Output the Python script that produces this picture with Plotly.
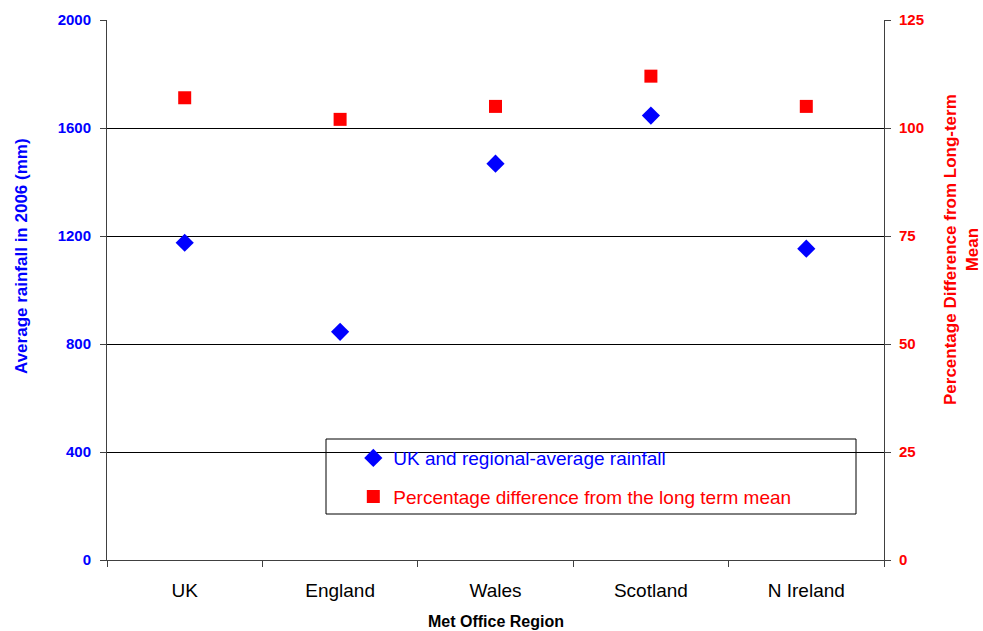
import plotly.graph_objects as go

regions = ["UK", "England", "Wales", "Scotland", "N Ireland"]
rainfall_mm = [1175, 845, 1468, 1646, 1153]
pct_of_mean = [107, 102, 105, 112, 105]
left_ticks = [0, 400, 800, 1200, 1600, 2000]
right_ticks = [0, 25, 50, 75, 100, 125]

FONT = "Arial, Liberation Sans, sans-serif"
BLUE = "#0000FF"
RED = "#FF0000"

fig = go.Figure()
fig.add_trace(go.Scatter(
    x=regions, y=rainfall_mm, mode="markers", yaxis="y",
    name='<span style="color:#0000FF">UK and regional-average rainfall</span>',
    legendgroup="a",
    marker=dict(symbol="diamond", size=14, color=BLUE, line=dict(width=0)),
))
fig.add_trace(go.Scatter(
    x=regions, y=pct_of_mean, mode="markers", yaxis="y2",
    name='<span style="color:#FF0000">Percentage difference from the long term mean</span>',
    legendgroup="b",
    marker=dict(symbol="square", size=13, color=RED, line=dict(width=0)),
))

axis_line = "#404040"
fig.update_layout(
    width=983, height=631,
    margin=dict(l=107, r=99, t=20, b=71),
    paper_bgcolor="white", plot_bgcolor="white",
    font=dict(family=FONT),
    xaxis=dict(
        type="category", range=[-0.5, 4.5],
        tickson="boundaries", ticks="outside", ticklen=6, tickcolor=axis_line,
        showline=True, linecolor=axis_line, linewidth=1,
        showgrid=False, zeroline=False,
        tickfont=dict(size=19, color="black"),
        ticklabelstandoff=13,
    ),
    yaxis=dict(
        range=[0, 2000], tickvals=left_ticks,
        ticks="outside", ticklen=6, tickcolor=axis_line,
        showline=True, linecolor=axis_line, linewidth=1,
        showgrid=True, gridcolor="black", gridwidth=1,
        zeroline=False,
        tickfont=dict(size=15, color=BLUE, family=FONT, weight="bold"),
        ticklabelstandoff=6,
    ),
    yaxis2=dict(
        range=[0, 125], tickvals=right_ticks, overlaying="y", side="right",
        ticks="outside", ticklen=6, tickcolor=axis_line,
        showline=True, linecolor=axis_line, linewidth=1,
        showgrid=False, zeroline=False,
        tickfont=dict(size=15, color=RED, family=FONT, weight="bold"),
        ticklabelstandoff=5,
    ),
    showlegend=True,
    legend=dict(
        x=0.317, y=0.224, xanchor="left", yanchor="top",
        bgcolor="rgba(0,0,0,0)", borderwidth=0,
        font=dict(size=19),
        tracegroupgap=11, traceorder="grouped",
    ),
    shapes=[dict(
        type="rect", xref="paper", yref="paper",
        x0=(326 - 107) / 777, x1=(856 - 107) / 777,
        y0=(560 - 514) / 540, y1=(560 - 439) / 540,
        line=dict(color="black", width=1), fillcolor="white", layer="below",
    )],
    annotations=[
        dict(text="<b>Average rainfall in 2006 (mm)</b>", textangle=-90,
             xref="paper", yref="paper", x=(22 - 107) / 777, y=(560 - 256) / 540,
             xanchor="center", yanchor="middle", showarrow=False,
             font=dict(size=17, color=BLUE)),
        dict(text="<b>Percentage Difference from Long-term<br>Mean</b>", textangle=-90,
             xref="paper", yref="paper", x=(961 - 107) / 777, y=(560 - 250) / 540,
             xanchor="center", yanchor="middle", showarrow=False,
             font=dict(size=17, color=RED)),
        dict(text="<b>Met Office Region</b>",
             xref="paper", yref="paper", x=0.5, y=(560 - 621) / 540,
             xanchor="center", yanchor="middle", showarrow=False,
             font=dict(size=16, color="black")),
    ],
)

fig.write_html("out.html",
               config={"displayModeBar": False},
               post_script="document.body.style.margin='0';document.body.style.overflow='hidden';")
